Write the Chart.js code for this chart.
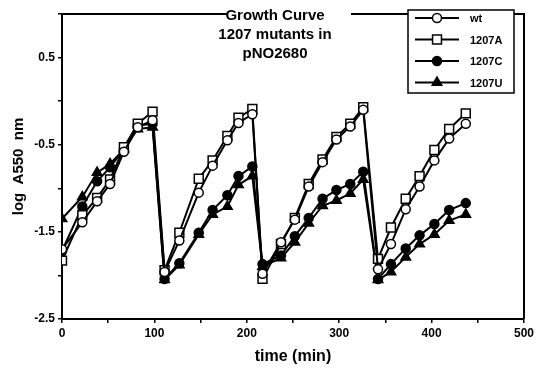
<!DOCTYPE html>
<html>
<head>
<meta charset="utf-8">
<script src="https://cdn.jsdelivr.net/npm/chart.js@4.4.1/dist/chart.umd.min.js"></script>
<style>
  html, body { margin: 0; padding: 0; background: #fff; }
  #wrap { position: relative; width: 537px; height: 374px; }
</style>
</head>
<body>
<div id="wrap"><canvas id="growth" width="537" height="374"></canvas></div>
<script>
// sampling times (min), four growth cycles after each dilution
const times = [0, 22, 38, 52, 67, 82, 98,
               111, 127, 148, 163, 179, 191, 206,
               217, 237, 252, 267, 282, 297, 312, 326,
               342, 356, 372, 387, 403, 419, 437];

// log A550 per strain
const wt    = [-1.70, -1.39, -1.15, -0.95, -0.58, -0.30, -0.22,
               -1.96, -1.60, -1.05, -0.74, -0.45, -0.25, -0.15,
               -1.98, -1.62, -1.36, -0.98, -0.70, -0.44, -0.29, -0.10,
               -1.93, -1.64, -1.24, -0.98, -0.68, -0.43, -0.26];
const m1207A = [-1.83, -1.31, -1.11, -0.90, -0.53, -0.26, -0.12,
               -1.94, -1.51, -0.89, -0.68, -0.40, -0.19, -0.09,
               -2.04, -1.64, -1.34, -0.95, -0.67, -0.41, -0.26, -0.07,
               -1.81, -1.45, -1.12, -0.86, -0.56, -0.32, -0.14];
const m1207C = [-1.72, -1.21, -0.92, -0.76, -0.55, -0.28, -0.26,
               -2.04, -1.86, -1.51, -1.25, -1.08, -0.86, -0.75,
               -1.87, -1.77, -1.55, -1.34, -1.12, -1.02, -0.95, -0.81,
               -2.04, -1.87, -1.69, -1.54, -1.41, -1.25, -1.17];
const m1207U = [-1.35, -1.10, -0.82, -0.72, -0.55, -0.32, -0.30,
               -2.05, -1.88, -1.53, -1.30, -1.21, -0.96, -0.86,
               -1.90, -1.80, -1.62, -1.40, -1.20, -1.14, -1.06, -0.90,
               -2.05, -1.96, -1.79, -1.64, -1.53, -1.37, -1.30];

const titleLines = ["Growth Curve", "1207 mutants in", "pNO2680"];

Chart.defaults.font.family = "'Liberation Sans', Arial, sans-serif";
Chart.defaults.color = "#000";

function pts(vals) {
  return times.map((t, i) => ({x: t, y: vals[i]}));
}

function series(label, vals, style, fill, radius) {
  return {
    label: label,
    data: pts(vals),
    borderColor: "#000",
    borderWidth: 2,
    pointStyle: style,
    pointRadius: radius,
    pointBackgroundColor: fill,
    pointBorderColor: "#000",
    pointBorderWidth: 1.5,
    tension: 0
  };
}

const datasets = [
  series("wt", wt, "circle", "#fff", 4.5),
  series("1207A", m1207A, "rect", "#fff", 6.3),
  series("1207C", m1207C, "circle", "#000", 4.5),
  series("1207U", m1207U, "triangle", "#000", 5.5)
];

// frame, title box and legend box sit on top of the plot
const overlay = {
  id: "overlay",
  afterDraw(chart) {
    const ctx = chart.ctx;
    const a = chart.chartArea;
    ctx.save();
    ctx.strokeStyle = "#000";
    ctx.lineWidth = 2;
    ctx.beginPath();
    ctx.moveTo(a.left, a.top);
    ctx.lineTo(a.right, a.top);
    ctx.lineTo(a.right, a.bottom);
    ctx.stroke();

    // title
    ctx.fillStyle = "#fff";
    ctx.fillRect(228, 0, 123, 64);
    ctx.fillStyle = "#000";
    ctx.font = "bold 15px 'Liberation Sans', Arial, sans-serif";
    ctx.textAlign = "center";
    ctx.textBaseline = "middle";
    titleLines.forEach((l, i) => ctx.fillText(l, 275, 16 + i * 19));

    // legend
    ctx.fillStyle = "#fff";
    ctx.fillRect(408, 10, 106, 83);
    ctx.lineWidth = 1.5;
    ctx.strokeRect(408, 10, 106, 83);
    ctx.font = "bold 11px 'Liberation Sans', Arial, sans-serif";
    ctx.textAlign = "left";
    datasets.forEach((ds, i) => {
      const y = 18 + i * 21.5;
      ctx.strokeStyle = "#000";
      ctx.lineWidth = 2;
      ctx.beginPath();
      ctx.moveTo(415, y);
      ctx.lineTo(459, y);
      ctx.stroke();
      ctx.fillStyle = ds.pointBackgroundColor;
      ctx.lineWidth = 1.5;
      Chart.helpers.drawPoint(ctx, {
        pointStyle: ds.pointStyle, radius: ds.pointRadius, rotation: 0, borderWidth: 1.5
      }, 437, y);
      ctx.fillStyle = "#000";
      ctx.fillText(ds.label, 470, y + 1);
    });
    ctx.restore();
  }
};

const tickFont = {size: 12, weight: "bold"};

new Chart(document.getElementById("growth"), {
  type: "line",
  data: {datasets: datasets},
  options: {
    responsive: false,
    animation: false,
    devicePixelRatio: 1,
    layout: {padding: {top: 14, right: 10, left: 0, bottom: 0}},
    plugins: {legend: {display: false}, tooltip: {enabled: false}},
    scales: {
      x: {
        type: "linear",
        min: 0,
        max: 500,
        ticks: {
          stepSize: 50,
          font: tickFont,
          padding: 3,
          maxRotation: 0,
          callback: v => (v % 100 === 0 ? v : "")
        },
        grid: {drawOnChartArea: false, drawTicks: true, tickLength: 4, color: "#000", lineWidth: 1.5},
        border: {color: "#000", width: 2},
        title: {display: true, text: "time (min)", font: {size: 16, weight: "bold"}, padding: {top: 0, bottom: 8}},
        afterFit: s => { s.height = 55; }
      },
      y: {
        min: -2.5,
        max: 1.0,
        ticks: {
          stepSize: 0.5,
          font: tickFont,
          padding: 3,
          callback: v => (Math.round(v * 2) % 2 !== 0 ? v.toFixed(1) : "")
        },
        grid: {drawOnChartArea: false, drawTicks: true, tickLength: 4, color: "#000", lineWidth: 1.5},
        border: {color: "#000", width: 2},
        title: {display: true, text: "log  A550  nm", font: {size: 15, weight: "bold"}, padding: {top: 10, bottom: 0}},
        afterFit: s => { s.width = 62; }
      }
    }
  },
  plugins: [overlay]
});
</script>
</body>
</html>
